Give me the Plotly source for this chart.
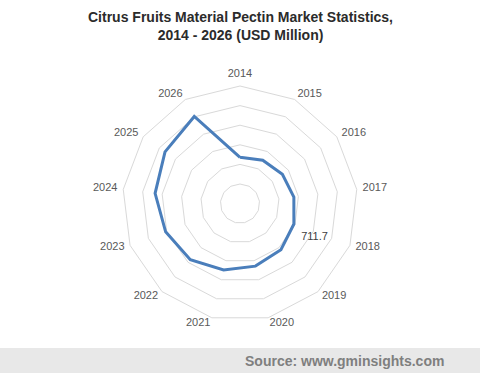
import plotly.graph_objects as go

years = ["2014", "2015", "2016", "2017", "2018", "2019", "2020",
         "2021", "2022", "2023", "2024", "2025", "2026"]
values = [571, 605, 636, 670, 711.7, 762, 795, 845, 925, 982, 1056, 1125, 1215]
labels = ["", "", "", "", "711.7", "", "", "", "", "", "", "", ""]

title_lines = ["Citrus Fruits Material Pectin Market Statistics,", "2014 - 2026 (USD Million)"]
source_text = "Source: www.gminsights.com"

r_max = 1452
n_rings = 6
r_ext = r_max * 1.06
font_family = "Liberation Sans, Arial, sans-serif"

# geometry (pixels): centre and radius of the outer grid ring
cx, cy, R_grid = 240, 203.6, 117.6
R_plot = R_grid * r_ext / r_max

n = len(years)
label_pos = []
for i in range(n):
    if i == 0:
        label_pos.append("top center")
    elif i <= n // 2:
        label_pos.append("middle right")
    else:
        label_pos.append("middle left")

fig = go.Figure()
fig.add_trace(go.Scatterpolar(
    r=values + [values[0]],
    theta=years + [years[0]],
    text=labels + [""],
    mode="lines+markers+text",
    textposition="bottom right",
    textfont=dict(family=font_family, size=11, color="#404040"),
    line=dict(color="#4A7EBB", width=3),
    marker=dict(size=10, color="rgba(0,0,0,0)"),
    cliponaxis=False,
    hoverinfo="skip",
    showlegend=False,
))
fig.add_trace(go.Scatterpolar(
    r=[r_max * 1.05] * n,
    theta=years,
    text=years,
    mode="text",
    textposition=label_pos,
    textfont=dict(family=font_family, size=11, color="#595959"),
    cliponaxis=False,
    hoverinfo="skip",
    showlegend=False,
))

W, H = 480, 373
fig.update_layout(
    width=W, height=H,
    margin=dict(l=0, r=0, t=0, b=0),
    paper_bgcolor="white",
    plot_bgcolor="white",
    polar=dict(
        domain=dict(x=[(cx - R_plot) / W, (cx + R_plot) / W],
                    y=[1 - (cy + R_plot) / H, 1 - (cy - R_plot) / H]),
        bgcolor="white",
        gridshape="linear",
        radialaxis=dict(
            range=[0, r_ext],
            tick0=0,
            dtick=r_max / n_rings,
            showticklabels=False,
            ticks="",
            showline=False,
            gridcolor="#D9D9D9",
            gridwidth=1,
        ),
        angularaxis=dict(
            direction="clockwise",
            rotation=90,
            showgrid=False,
            showline=False,
            ticks="",
            showticklabels=False,
        ),
    ),
    shapes=[dict(
        type="rect", xref="paper", yref="paper",
        x0=0, x1=1, y0=0, y1=25 / H,
        fillcolor="#E8E8E8", line=dict(width=0), layer="below",
    )],
    annotations=[
        dict(
            text="<b>" + title_lines[0] + "</b><br><b>" + title_lines[1] + "</b>",
            xref="paper", yref="paper",
            x=0.5, xanchor="center",
            y=1 - 7 / H, yanchor="top",
            showarrow=False,
            font=dict(family=font_family, size=14, color="#2B2B2B"),
        ),
        dict(
            text="<b>" + source_text + "</b>",
            xref="paper", yref="paper",
            x=446 / W, xanchor="right",
            y=12.5 / H, yanchor="middle",
            showarrow=False,
            font=dict(family=font_family, size=14, color="#7F7F7F"),
        ),
    ],
)

fig.write_html("out.html")
